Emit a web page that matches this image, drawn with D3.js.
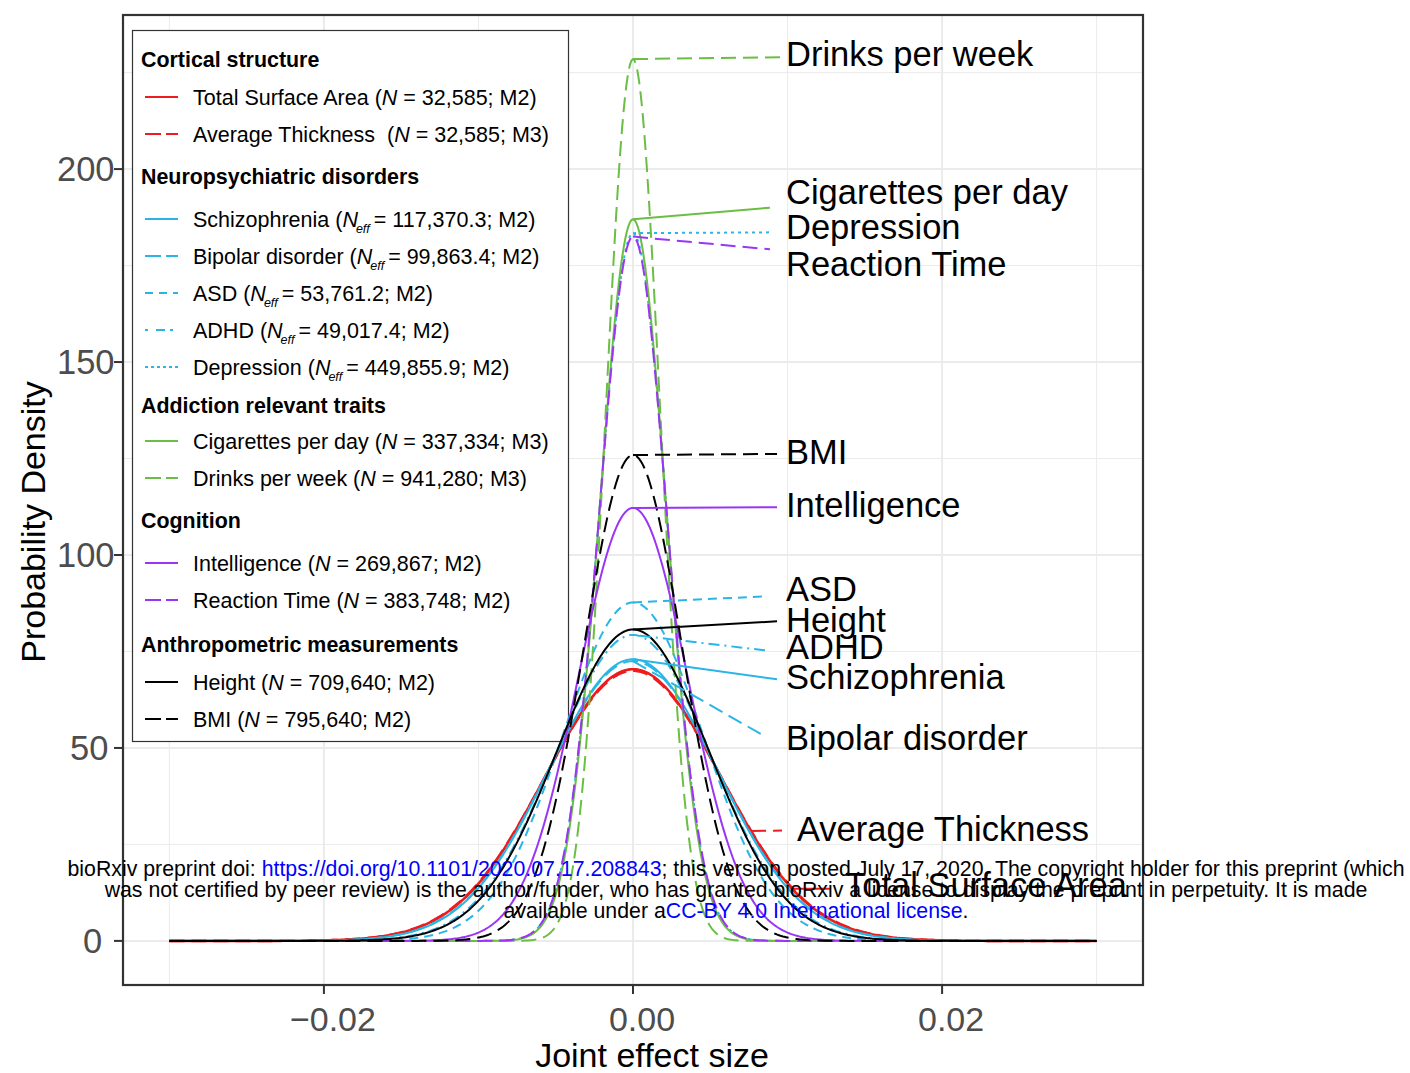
<!DOCTYPE html>
<html>
<head>
<meta charset="utf-8">
<script src="https://cdn.jsdelivr.net/npm/d3@7/dist/d3.min.js"></script>
<style>
  body { margin: 0; background: #fff; }
  text { font-family: "Liberation Sans", Arial, Helvetica, sans-serif; }
</style>
</head>
<body>
<svg id="chart" width="1410" height="1073"></svg>
<script>
// ---- data -------------------------------------------------------------
const traits = ["Total Surface Area", "Average Thickness", "Schizophrenia", "Bipolar disorder",
  "ASD", "ADHD", "Depression", "Cigarettes per day", "Drinks per week",
  "Intelligence", "Reaction Time", "Height", "BMI"];
const traitGroup = ["Cortical structure", "Cortical structure",
  "Neuropsychiatric disorders", "Neuropsychiatric disorders", "Neuropsychiatric disorders",
  "Neuropsychiatric disorders", "Neuropsychiatric disorders",
  "Addiction relevant traits", "Addiction relevant traits",
  "Cognition", "Cognition", "Anthropometric measurements", "Anthropometric measurements"];
// peak height of each joint-effect-size density (normal, mean 0)
const peakDensity = [70.4, 70.0, 73.0, 72.5, 87.7, 79.3, 183.4, 187.0, 228.5, 112.2, 182.5, 80.7, 125.9];
const sampleKind = ["N", "N", "Neff", "Neff", "Neff", "Neff", "Neff", "N", "N", "N", "N", "N", "N"];
const sampleSize = ["32,585", "32,585", "117,370.3", "99,863.4", "53,761.2", "49,017.4", "449,855.9",
  "337,334", "941,280", "269,867", "383,748", "709,640", "795,640"];
const modelName = ["M2", "M3", "M2", "M2", "M2", "M2", "M2", "M3", "M3", "M2", "M2", "M2", "M2"];
const traitColour = ["red", "red", "blue", "blue", "blue", "blue", "blue",
  "green", "green", "purple", "purple", "black", "black"];
const traitLinetype = ["solid", "dashed", "solid", "dashed", "shortdash", "dotdash", "dotted",
  "solid", "dashed", "solid", "dashed", "solid", "dashed"];

const effectRange = [-0.03, 0.03];
const xTicks = [-0.02, 0, 0.02];
const xTickLabels = ["\u22120.02", "0.00", "0.02"];
const xMinorTicks = [-0.03, -0.01, 0.01, 0.03];
const yTicks = [0, 50, 100, 150, 200];
const yMinorTicks = [25, 75, 125, 175, 225];

// repelled trait labels: label position, where its leader ends, and where on the curve it starts
const labelTrait = ["Drinks per week", "Cigarettes per day", "Depression", "Reaction Time", "BMI",
  "Intelligence", "ASD", "Height", "ADHD", "Schizophrenia", "Bipolar disorder",
  "Average Thickness", "Total Surface Area"];
const labelX = [0.0099, 0.0099, 0.0099, 0.0099, 0.0099, 0.0099, 0.0099, 0.0099, 0.0099, 0.0099, 0.0099, 0.01061, 0.01372];
const labelY = [229.8, 194.2, 185.1, 175.5, 126.7, 112.9, 91.1, 83.3, 76.1, 68.3, 52.7, 29.1, 14.5];
const leaderEndX = [0.00977, 0.00886, 0.00886, 0.00886, 0.00932, 0.00932, 0.00867, 0.00932, 0.00854, 0.00932, 0.00854, 0.00964, 0.01275];
const leaderEndY = [229.0, 190.0, 183.6, 179.2, 126.2, 112.4, 89.3, 82.8, 75.3, 67.8, 53.0, 28.6, 13.5];
const leaderStartX = [0, 0, 0, 0, 0, 0, 0, 0, 0, 0, 0, 0.00764, 0.0103];

// ---- styles -----------------------------------------------------------
const palette = { red: "#EE1C1C", blue: "#29B6E6", green: "#6BBE45", purple: "#9B35F5", black: "#000000" };
const dashes = { solid: null, dashed: "15,7", shortdash: "9,6", dotdash: "2,5,11,5", dotted: "3,4" };
const legendDashes = { solid: null, dashed: "16,5", shortdash: "8,6", dotdash: "3,8,9,5", dotted: "3,3" };

// ---- layout -----------------------------------------------------------
const panel = { left: 123, right: 1143, top: 15, bottom: 985 };
const svg = d3.select("#chart");

const xPad = (effectRange[1] - effectRange[0]) * 0.05;
const x = d3.scaleLinear().domain([effectRange[0] - xPad, effectRange[1] + xPad])
  .range([panel.left, panel.right]);
const yMax = d3.max(peakDensity);
const y = d3.scaleLinear().domain([-yMax * 0.05, yMax * 1.05]).range([panel.bottom, panel.top]);

// normal density with mean 0 whose peak is the given height
const density = (peak, v) => peak * Math.exp(-0.5 * Math.pow(v * peak * Math.sqrt(2 * Math.PI), 2));

// ---- grid -------------------------------------------------------------
const grid = svg.append("g");
grid.selectAll(".vminor").data(xMinorTicks).join("line")
  .attr("x1", d => x(d)).attr("x2", d => x(d)).attr("y1", panel.top).attr("y2", panel.bottom)
  .attr("stroke", "#EBEBEB").attr("stroke-width", 1);
grid.selectAll(".hminor").data(yMinorTicks).join("line")
  .attr("x1", panel.left).attr("x2", panel.right).attr("y1", d => y(d)).attr("y2", d => y(d))
  .attr("stroke", "#EBEBEB").attr("stroke-width", 1);
grid.selectAll(".vmajor").data(xTicks).join("line")
  .attr("x1", d => x(d)).attr("x2", d => x(d)).attr("y1", panel.top).attr("y2", panel.bottom)
  .attr("stroke", "#EBEBEB").attr("stroke-width", 2);
grid.selectAll(".hmajor").data(yTicks).join("line")
  .attr("x1", panel.left).attr("x2", panel.right).attr("y1", d => y(d)).attr("y2", d => y(d))
  .attr("stroke", "#EBEBEB").attr("stroke-width", 2);

// ---- legend (inside the panel, top left) ------------------------------
const legend = svg.append("g");
legend.append("rect").attr("x", 132.5).attr("y", 30.5).attr("width", 436).attr("height", 711)
  .attr("fill", "#fff").attr("stroke", "#333").attr("stroke-width", 1.2);
const groupOrder = Array.from(new Set(traitGroup));
const titleRowY = [60, 177, 406, 521, 645];
const itemRowY = [97, 134, 219, 256, 293, 330, 367, 441, 478, 563, 600, 682, 719];
groupOrder.forEach((g, gi) => {
  legend.append("text").attr("x", 141).attr("y", titleRowY[gi]).attr("dy", "0.35em")
    .attr("font-size", 21.4).attr("font-weight", "bold").attr("fill", "#000").text(g);
});
traits.forEach((t, i) => {
  const yy = itemRowY[i];
  legend.append("line").attr("x1", 145).attr("x2", 178).attr("y1", yy).attr("y2", yy)
    .attr("stroke", palette[traitColour[i]]).attr("stroke-width", 2)
    .attr("stroke-dasharray", legendDashes[traitLinetype[i]]);
  const txt = legend.append("text").attr("x", 193).attr("y", yy).attr("dy", "0.35em")
    .attr("font-size", 21.5).attr("fill", "#000").style("white-space", "pre");
  txt.append("tspan").text(t + (t === "Average Thickness" ? "  (" : " ("));
  txt.append("tspan").attr("font-style", "italic").text("N");
  if (sampleKind[i] === "Neff") {
    txt.append("tspan").attr("font-style", "italic").attr("font-size", 12.5)
      .attr("dx", -2).attr("dy", 6).text("eff");
    txt.append("tspan").attr("dx", -2).attr("dy", -6).text(" = " + sampleSize[i] + "; " + modelName[i] + ")");
  } else {
    txt.append("tspan").text(" = " + sampleSize[i] + "; " + modelName[i] + ")");
  }
});

// ---- density curves ---------------------------------------------------
const xs = d3.range(0, 601).map(k => effectRange[0] + (effectRange[1] - effectRange[0]) * k / 600);
const line = d3.line().x(d => x(d[0])).y(d => y(d[1]));
const curves = svg.append("g").attr("fill", "none");
traits.forEach((t, i) => {
  curves.append("path")
    .attr("d", line(xs.map(v => [v, density(peakDensity[i], v)])))
    .attr("stroke", palette[traitColour[i]])
    .attr("stroke-width", traitColour[i] === "red" ? 2.6 : 2)
    .attr("stroke-dasharray", dashes[traitLinetype[i]]);
});

// ---- repelled labels with leaders ------------------------------------
const labels = svg.append("g");
labelTrait.forEach((t, j) => {
  const i = traits.indexOf(t);
  const sx = leaderStartX[j];
  labels.append("line")
    .attr("x1", x(sx)).attr("y1", y(density(peakDensity[i], sx)))
    .attr("x2", x(leaderEndX[j])).attr("y2", y(leaderEndY[j]))
    .attr("stroke", palette[traitColour[i]]).attr("stroke-width", 2)
    .attr("stroke-dasharray", dashes[traitLinetype[i]]);
  labels.append("text").attr("x", x(labelX[j])).attr("y", y(labelY[j])).attr("dy", "0.35em")
    .attr("font-size", 34.5).attr("fill", "#000").text(t);
});

// ---- border, axes -----------------------------------------------------
svg.append("rect").attr("x", panel.left).attr("y", panel.top)
  .attr("width", panel.right - panel.left).attr("height", panel.bottom - panel.top)
  .attr("fill", "none").attr("stroke", "#333").attr("stroke-width", 2.2);

const axes = svg.append("g");
axes.selectAll(".yt").data(yTicks).join("line")
  .attr("x1", panel.left - 9).attr("x2", panel.left).attr("y1", d => y(d)).attr("y2", d => y(d))
  .attr("stroke", "#333").attr("stroke-width", 2);
axes.selectAll(".yl").data(yTicks).join("text")
  .attr("x", d => 96 - 13 * String(d).length).attr("y", d => y(d)).attr("dy", "0.35em")
  .attr("font-size", 34.5).attr("fill", "#4D4D4D").text(d => d);
axes.selectAll(".xt").data(xTicks).join("line")
  .attr("x1", d => x(d)).attr("x2", d => x(d)).attr("y1", panel.bottom).attr("y2", panel.bottom + 9)
  .attr("stroke", "#333").attr("stroke-width", 2);
axes.selectAll(".xl").data(xTicks).join("text")
  .attr("x", d => x(d) + 9).attr("y", 1019).attr("dy", "0.35em").attr("text-anchor", "middle")
  .attr("font-size", 34).attr("fill", "#4D4D4D").text((d, k) => xTickLabels[k]);

svg.append("text").attr("x", 652).attr("y", 1055).attr("dy", "0.35em").attr("text-anchor", "middle")
  .attr("font-size", 34).attr("fill", "#000").text("Joint effect size");
svg.append("text").attr("transform", "translate(33,522) rotate(-90)").attr("dy", "0.35em")
  .attr("text-anchor", "middle").attr("font-size", 34).attr("fill", "#000").text("Probability Density");

// ---- preprint notice overlaid on the page -----------------------------
const notice = svg.append("g").attr("font-size", 21.3).attr("text-anchor", "middle").attr("fill", "#000");
const n1 = notice.append("text").attr("x", 736).attr("y", 869).attr("dy", "0.35em");
n1.append("tspan").text("bioRxiv preprint doi: ");
n1.append("tspan").attr("fill", "#0000FF").text("https://doi.org/10.1101/2020.07.17.208843");
n1.append("tspan").text("; this version posted July 17, 2020. The copyright holder for this preprint (which");
notice.append("text").attr("x", 736).attr("y", 890).attr("dy", "0.35em")
  .text("was not certified by peer review) is the author/funder, who has granted bioRxiv a license to display the preprint in perpetuity. It is made");
const n3 = notice.append("text").attr("x", 736).attr("y", 911).attr("dy", "0.35em");
n3.append("tspan").text("available under a");
n3.append("tspan").attr("fill", "#0000FF").text("CC-BY 4.0 International license");
n3.append("tspan").text(".");
</script>
</body>
</html>
